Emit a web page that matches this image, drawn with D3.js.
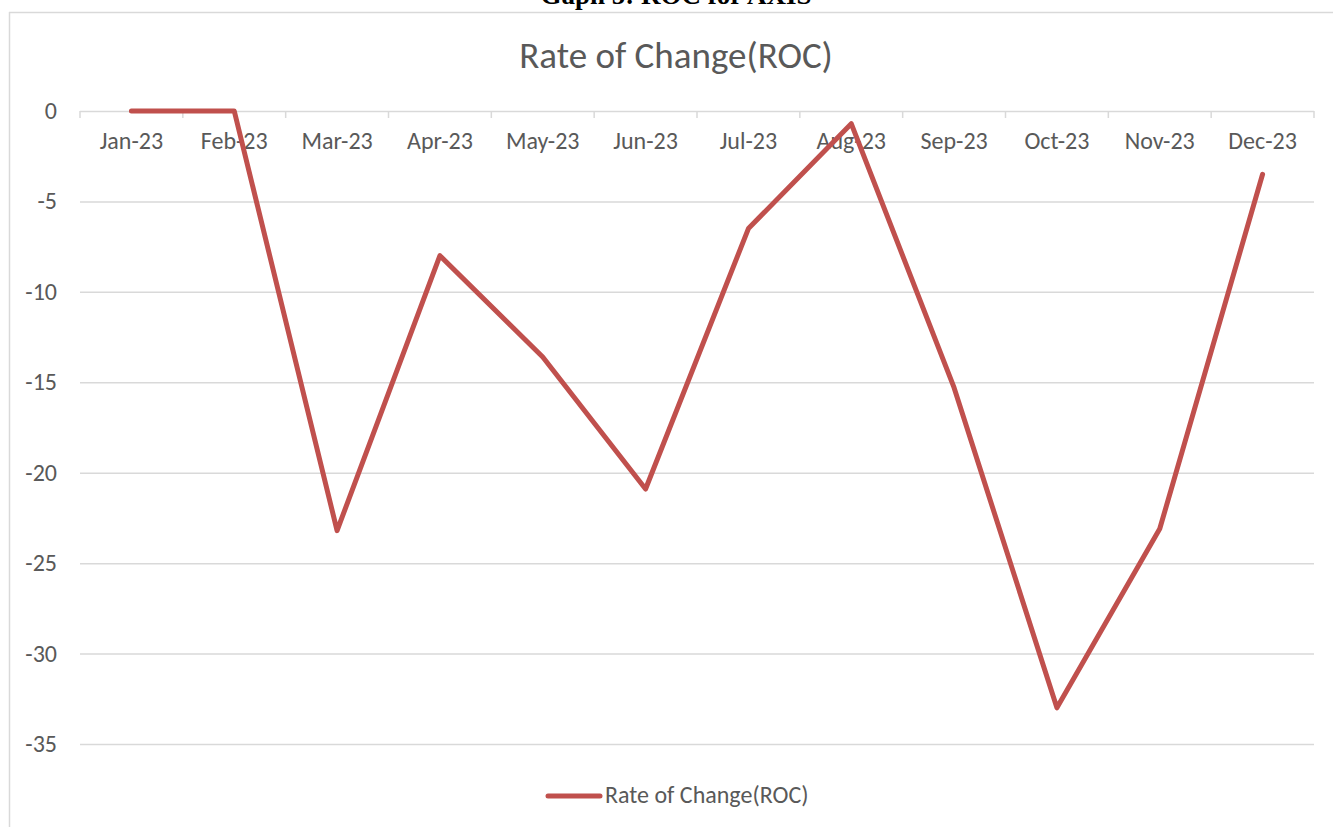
<!DOCTYPE html>
<html>
<head>
<meta charset="utf-8">
<script src="https://cdn.jsdelivr.net/npm/d3@7"></script>
<style>
  body { margin: 0; background: #fff; }
  svg { display: block; }
</style>
</head>
<body>
<div id="chart"></div>
<script>
// data
var months = ["Jan-23", "Feb-23", "Mar-23", "Apr-23", "May-23", "Jun-23",
              "Jul-23", "Aug-23", "Sep-23", "Oct-23", "Nov-23", "Dec-23"];
var rocValues = [0, 0, -23.2, -8, -13.6, -20.9, -6.5, -0.7, -15.3, -33.0, -23.1, -3.5];
var yTicks = [0, -5, -10, -15, -20, -25, -30, -35];
var seriesName = "Rate of Change(ROC)";

var width = 1333, height = 827;
var font = "Carlito, Calibri, 'Open Sans', sans-serif";
var textColor = "#595959";
var gridColor = "#d9d9d9";
var lineColor = "#c0504d";

var svg = d3.select("#chart").append("svg")
  .attr("width", width)
  .attr("height", height);

// page caption, clipped at the top like in the source page
svg.append("text")
  .attr("x", 676).attr("y", 4)
  .attr("text-anchor", "middle")
  .style("font-family", "'Liberation Serif', 'Times New Roman', serif")
  .style("font-weight", "bold")
  .style("font-size", "27px")
  .text("Gaph 5: ROC for AXIS");

// chart frame
svg.append("line")
  .attr("x1", 9).attr("x2", width).attr("y1", 12.5).attr("y2", 12.5)
  .attr("stroke", gridColor).attr("stroke-width", 1.5);
svg.append("line")
  .attr("x1", 9.5).attr("x2", 9.5).attr("y1", 12).attr("y2", height)
  .attr("stroke", gridColor).attr("stroke-width", 1.5);

// chart title
svg.append("text")
  .attr("x", 676).attr("y", 68)
  .attr("text-anchor", "middle")
  .style("font-family", font)
  .style("font-size", "37px")
  .attr("fill", textColor)
  .text(seriesName);

var x = d3.scaleBand()
  .domain(months)
  .range([80, 1314]);

var y = d3.scaleLinear()
  .domain([0, -35])
  .range([111, 744]);

// gridlines
svg.append("g")
  .selectAll("line")
  .data(yTicks)
  .enter()
  .append("line")
    .attr("x1", 80).attr("x2", 1314)
    .attr("y1", function(d){ return y(d) + 0.5; })
    .attr("y2", function(d){ return y(d) + 0.5; })
    .attr("stroke", gridColor)
    .attr("stroke-width", 1.5);

// y labels
svg.append("g")
  .selectAll("text")
  .data(yTicks)
  .enter()
  .append("text")
    .attr("x", 57)
    .attr("y", function(d){ return y(d) + 8; })
    .attr("text-anchor", "end")
    .style("font-family", font)
    .style("font-size", "24px")
    .attr("fill", textColor)
    .text(function(d){ return d; });

// category axis sits on the zero line
var xAxis = svg.append("g")
  .attr("transform", "translate(0," + (y(0) + 0.5) + ")")
  .call(d3.axisBottom(x).tickSize(0).tickPadding(20));
xAxis.select(".domain").remove();
xAxis.selectAll("text")
  .style("font-family", font)
  .style("font-size", "24px")
  .attr("fill", textColor);

// tick marks at the band edges
var edges = months.map(function(m){ return x(m); }).concat([x.range()[1]]);
svg.append("g")
  .selectAll("line")
  .data(edges)
  .enter()
  .append("line")
    .attr("x1", function(d){ return d; })
    .attr("x2", function(d){ return d; })
    .attr("y1", y(0))
    .attr("y2", y(0) + 7)
    .attr("stroke", gridColor)
    .attr("stroke-width", 1.5);

// the series line
var line = d3.line()
  .x(function(d, i){ return x(months[i]) + x.bandwidth() / 2; })
  .y(function(d){ return y(d); });

svg.append("path")
  .datum(rocValues)
  .attr("d", line)
  .attr("fill", "none")
  .attr("stroke", lineColor)
  .attr("stroke-width", 5)
  .attr("stroke-linejoin", "round")
  .attr("stroke-linecap", "round");

// legend
var legend = svg.append("g");
legend.append("line")
  .attr("x1", 548).attr("x2", 600)
  .attr("y1", 796).attr("y2", 796)
  .attr("stroke", lineColor)
  .attr("stroke-width", 5)
  .attr("stroke-linecap", "round");
legend.append("text")
  .attr("x", 605).attr("y", 803)
  .style("font-family", font)
  .style("font-size", "24px")
  .attr("fill", textColor)
  .text(seriesName);
</script>
</body>
</html>
